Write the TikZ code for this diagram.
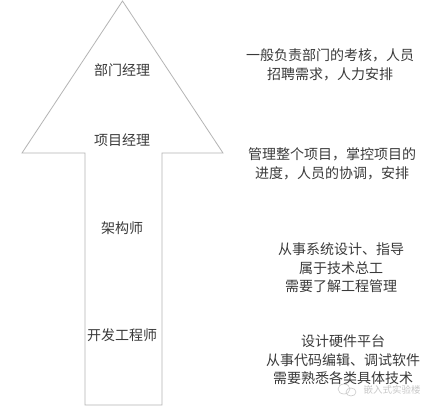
\documentclass[tikz,border=0pt]{standalone}
\usepackage{fontspec}
\setmainfont{Noto Sans CJK SC}
\definecolor{edge}{HTML}{B4B4B4}
\definecolor{txt}{HTML}{3A3A3A}
\definecolor{wm}{HTML}{C8C8C8}
\begin{document}
\begin{tikzpicture}[x=1pt,y=-1pt,
  role/.style={font=\fontsize{14}{18}\selectfont, text=txt, inner sep=0pt},
  desc/.style={font=\fontsize{14}{18.5}\selectfont, text=txt, align=center, inner sep=0pt},
  arrowline/.style={draw=edge, line width=0.8pt, line join=miter}]
\useasboundingbox (0,0) rectangle (435,410);
\fill[white] (0,0) rectangle (435,410);
% big arrow
\coordinate (apex) at (122.5,1);
\coordinate (hl) at (22,153);
\coordinate (hr) at (223,153);
\coordinate (sl) at (85,153);
\coordinate (sr) at (162,153);
\coordinate (bl) at (85,405);
\coordinate (br) at (162,405);
\draw[arrowline] (apex) -- (hr) -- (sr) -- (br) -- (bl) -- (sl) -- (hl) -- cycle;
% roles
\node[role] (r1) at (122,70) {部门经理};
\node[role] (r2) at (122,140) {项目经理};
\node[role] (r3) at (122,228) {架构师};
\node[role] (r4) at (122,335) {开发工程师};
% descriptions
\node[desc] (d1) at (330,65) {一般负责部门的考核，人员\\招聘需求，人力安排};
\node[desc] (d2) at (332,164) {管理整个项目，掌控项目的\\进度，人员的协调，安排};
\node[desc] (d3) at (341,268) {从事系统设计、指导\\属于技术总工\\需要了解工程管理};
\node[desc] (d4) at (343,360) {设计硬件平台\\从事代码编辑、调试软件\\需要熟悉各类具体技术};
% watermark
\draw[wm, line width=0.6pt] (344,389) ellipse (6pt and 5pt);
\draw[wm, line width=0.6pt] (351,392) ellipse (5pt and 4pt);
\node[font=\fontsize{9.5}{10}\selectfont, text=wm, inner sep=0pt] (wmtext) at (392,390) {嵌入式实验楼};
\end{tikzpicture}
\end{document}
